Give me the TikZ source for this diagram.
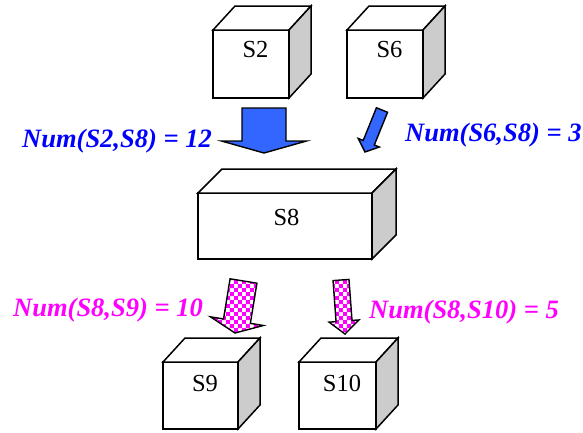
\documentclass[tikz,border=0pt]{standalone}
\usepackage{fontspec}
\setmainfont{Liberation Serif}
\usetikzlibrary{calc,patterns}
\definecolor{arrblue}{HTML}{3366FF}
\definecolor{txtblue}{HTML}{0000FF}
\definecolor{pinkc}{HTML}{FF00FF}
\definecolor{sidegray}{HTML}{CCCCCC}
\pgfdeclarepatternformonly{bigcheck}{\pgfqpoint{0pt}{0pt}}{\pgfqpoint{8.4pt}{8.4pt}}{\pgfqpoint{8.4pt}{8.4pt}}{%
  \pgfpathrectangle{\pgfqpoint{0pt}{0pt}}{\pgfqpoint{4.2pt}{4.2pt}}%
  \pgfpathrectangle{\pgfqpoint{4.2pt}{4.2pt}}{\pgfqpoint{4.2pt}{4.2pt}}%
  \pgfusepath{fill}}
\tikzset{
  edge/.style={draw=black, line width=1.5pt, line join=miter},
  face/.style={edge, fill=white, inner sep=0pt, outer sep=0pt},
  boxtext/.style={inner sep=0pt, font=\fontsize{24.5}{28}\selectfont},
  numlbl/.style={inner sep=0pt, anchor=base west, font=\fontsize{26.5}{30}\selectfont\bfseries\itshape},
  bluearrow/.style={edge, line width=1.4pt, fill=arrblue},
  pinkarrow/.style={edge, line width=1.4pt, preaction={fill=white}, pattern=bigcheck, pattern color=pinkc},
}
\newcommand\cubefaces[3]{%
  \draw[edge,fill=white] (#1.north west) -- ++(#2,#3) -- ($(#1.north east)+(#2,#3)$) -- (#1.north east) -- cycle;
  \draw[edge,fill=sidegray] (#1.north east) -- ++(#2,#3) -- ($(#1.south east)+(#2,#3)$) -- (#1.south east) -- cycle;}
\newcommand\blockarrow[6]{%
  \coordinate (bah) at ($(#3)!#6!(#2)$);
  \path[#1] ($(#2)!#4!90:(#3)$) -- ($(bah)!#4!90:(#3)$) -- ($(bah)!#5!90:(#3)$) -- (#3)
     -- ($(bah)!#5!-90:(#3)$) -- ($(bah)!#4!-90:(#3)$) -- ($(#2)!#4!-90:(#3)$) -- cycle;}
\begin{document}
\begin{tikzpicture}[x=1pt,y=-1pt]
\useasboundingbox (0,0) rectangle (583,432);
% cubes
\node[face, minimum width=76pt, minimum height=68pt] (s2) at (251,64) {};
\cubefaces{s2}{22}{-24}
\node[boxtext] (s2t) at (255.5,50) {S2};
\node[face, minimum width=76pt, minimum height=68pt] (s6) at (385,64) {};
\cubefaces{s6}{22}{-24}
\node[boxtext] (s6t) at (389.5,50) {S6};
\node[face, minimum width=174pt, minimum height=66pt] (s8) at (285,226) {};
\cubefaces{s8}{24}{-24}
\node[boxtext] (s8t) at (286.5,217) {S8};
\node[face, minimum width=75pt, minimum height=67pt] (s9) at (200.5,395.5) {};
\cubefaces{s9}{22}{-24}
\node[boxtext] (s9t) at (205,383) {S9};
\node[face, minimum width=77pt, minimum height=67pt] (s10) at (337.5,395.5) {};
\cubefaces{s10}{22}{-24}
\node[boxtext] (s10t) at (342,383) {S10};
% arrows
\coordinate (a1s) at (264,108); \coordinate (a1t) at (264,153);
\coordinate (a2s) at (382,110); \coordinate (a2t) at (365,152);
\coordinate (a3s) at (243.5,281); \coordinate (a3t) at (235,333);
\coordinate (a4s) at (341,280); \coordinate (a4t) at (345,334);
\blockarrow{bluearrow}{a1s}{a1t}{22pt}{42.5pt}{12pt}
\blockarrow{bluearrow}{a2s}{a2t}{6pt}{11.4pt}{10pt}
\blockarrow{pinkarrow}{a3s}{a3t}{13.6pt}{26.8pt}{12pt}
\blockarrow{pinkarrow}{a4s}{a4t}{8pt}{15pt}{13pt}
% labels
\node[numlbl, text=txtblue] (l1) at (22,147) {Num(S2,S8) = 12};
\node[numlbl, text=txtblue] (l2) at (405,141) {Num(S6,S8) = 3};
\node[numlbl, text=pinkc] (l3) at (13,316) {Num(S8,S9) = 10};
\node[numlbl, text=pinkc] (l4) at (369,318) {Num(S8,S10) = 5};
\end{tikzpicture}
\end{document}
